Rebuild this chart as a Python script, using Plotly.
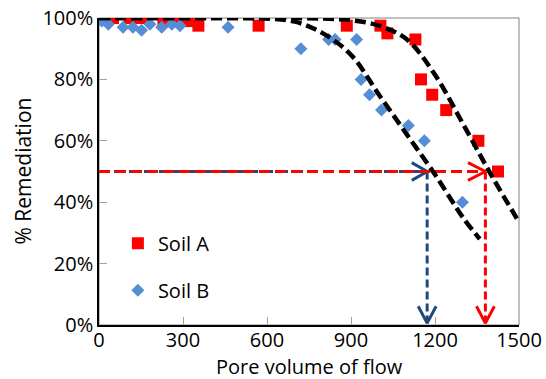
import plotly.graph_objects as go

# ---- data ----
soil_a_x = [0, 20, 50, 110, 135, 165, 230, 280, 320, 355, 570, 885, 1005, 1030, 1130, 1150, 1190, 1240, 1355, 1425]
soil_a_y = [100, 100, 100, 100, 100, 100, 99, 100, 99, 97.5, 97.5, 97.5, 97.5, 95, 93, 80, 75, 70, 60, 50]

soil_b_x = [0, 10, 33, 86, 121, 152, 182, 224, 260, 289, 461, 721, 820, 843, 920, 936, 966, 1009, 1105, 1162, 1298]
soil_b_y = [100, 99, 98, 97, 97, 96, 98, 97, 98, 97.5, 97, 90, 93, 93, 93, 80, 75, 70, 65, 60, 40]

fit_a_x = [0, 300, 600, 800, 900, 1000, 1100, 1200, 1300, 1400, 1500]
fit_a_y = [100, 100, 100, 99.8, 99.3, 97.5, 93, 81.5, 65.5, 49, 33.5]

fit_b_x = [0, 300, 500, 600, 700, 800, 900, 1000, 1100, 1200, 1300, 1360]
fit_b_y = [100, 100, 100, 99.8, 98.8, 95, 88, 75, 62, 49, 35, 28]

level = 50            # % remediation level marked by arrows
cross_b = 1172        # pore volume where Soil B reaches 50%
cross_a = 1380        # pore volume where Soil A reaches 50%

x_ticks = [0, 300, 600, 900, 1200, 1500]
y_ticks = [0, 20, 40, 60, 80, 100]
y_tick_text = [f"{v}%" for v in y_ticks]
x_title = "Pore volume of flow"
y_title = "% Remediation"

RED = "#FF0000"
BLUE = "#558ED5"
DBLUE = "#1F497D"
FONT = "Open Sans"

fig = go.Figure()

def arrow(x0, y0, x1, y1, color, dash, hx, hy, horizontal):
    fig.add_trace(go.Scatter(x=[x0, x1], y=[y0, y1], mode="lines",
                             line=dict(color=color, width=3, dash=dash),
                             showlegend=False, hoverinfo="skip"))
    if horizontal:
        hxs = [x1 - hx, x1, x1 - hx]
        hys = [y1 + hy, y1, y1 - hy]
    else:
        hxs = [x1 - hx, x1, x1 + hx]
        hys = [y1 + hy, y1, y1 + hy]
    fig.add_trace(go.Scatter(x=hxs, y=hys, mode="lines",
                             line=dict(color=color, width=3),
                             showlegend=False, hoverinfo="skip"))

# arrows: blue under red
arrow(0, level, cross_b, level, DBLUE, "9px,6px", 55, 2.9, True)
arrow(cross_b, level, cross_b, 0.6, DBLUE, "8px,4px", 32, 5.5, False)
arrow(0, level, cross_a, level, RED, "11px,5px", 62, 2.9, True)
arrow(cross_a, level, cross_a, 0.6, RED, "8px,4px", 32, 5.5, False)

fig.add_trace(go.Scatter(x=soil_a_x, y=soil_a_y, mode="markers", name="Soil A",
                         marker=dict(symbol="square", size=12, color=RED), legendgroup="a"))
fig.add_trace(go.Scatter(x=soil_b_x, y=soil_b_y, mode="markers", name="Soil B",
                         marker=dict(symbol="diamond", size=10, color=BLUE), legendgroup="b"))

for fx, fy in [(fit_a_x, fit_a_y), (fit_b_x, fit_b_y)]:
    fig.add_trace(go.Scatter(x=fx, y=fy, mode="lines", line_shape="spline",
                             line=dict(color="black", width=4.5, dash="11px,5px"),
                             showlegend=False, hoverinfo="skip"))

fig.update_layout(
    width=546, height=379,
    margin=dict(l=99, r=27, t=18, b=54),
    paper_bgcolor="white", plot_bgcolor="white",
    font=dict(family=FONT, size=20, color="black"),
    showlegend=True,
    legend=dict(x=0.045, y=0.33, xanchor="left", yanchor="top",
                bgcolor="rgba(0,0,0,0)", font=dict(size=20), tracegroupgap=18),
    shapes=[dict(type="rect", xref="paper", yref="paper", x0=0, x1=1, y0=0, y1=1,
                 line=dict(color="#808080", width=1), layer="below")],
    annotations=[
        dict(text=x_title, xref="paper", yref="paper", x=0.5, y=0, xanchor="center",
             yanchor="middle", yshift=-41, showarrow=False, font=dict(size=20)),
        dict(text=y_title, xref="paper", yref="paper", x=0, y=0.5, xanchor="center",
             yanchor="middle", xshift=-77, showarrow=False, textangle=-90, font=dict(size=21)),
    ],
)
fig.update_xaxes(range=[0, 1500], tickvals=x_ticks, showgrid=False, zeroline=False,
                 showline=True, linecolor="black", linewidth=1.5, automargin=False,
                 ticks="inside", ticklen=8, tickcolor="#A0A0A0", ticklabelstandoff=-4,
                 tickfont=dict(size=20))
fig.update_yaxes(range=[0, 100], tickvals=y_ticks, ticktext=y_tick_text, showgrid=False,
                 zeroline=False, showline=True, linecolor="black", linewidth=1.5, automargin=False,
                 ticks="inside", ticklen=8, tickcolor="#A0A0A0",
                 tickfont=dict(size=20))

fig.write_html("out.html")
